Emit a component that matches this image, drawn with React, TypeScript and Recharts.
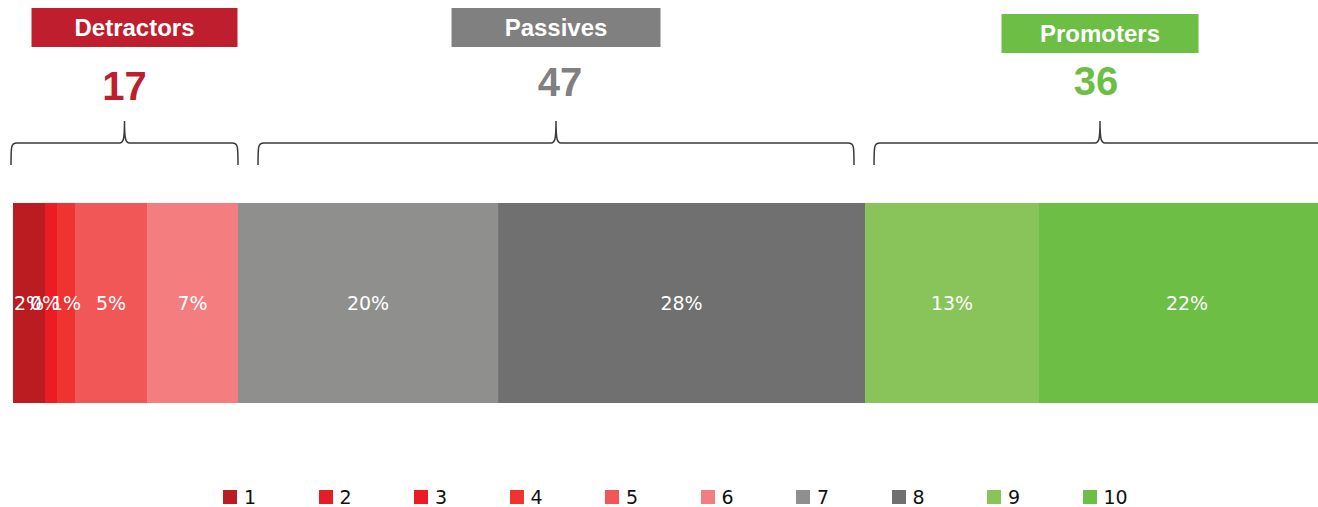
import React from 'react';
import { BarChart, Bar, XAxis, YAxis, Legend, ReferenceArea, ReferenceLine } from 'recharts';

// NPS score distribution (share of answers per score, in %)
const scores = ['1', '2', '3', '4', '5', '6', '7', '8', '9', '10'];
const shares = [2.42, 0, 0.91, 1.36, 5.45, 6.88, 19.67, 27.76, 13.16, 22.39];
// label of score 3 is not shown in the original
const shareLabels = ['2%', '0%', '', '1%', '5%', '7%', '20%', '28%', '13%', '22%'];
const scoreColors = [
  '#BA1C22', '#E31E24', '#ED1C24', '#EE3330', '#F25757',
  '#F47E7F', '#8F8F8E', '#6F706F', '#88C45A', '#6DBE45',
];

const groupNames = ['Detractors', 'Passives', 'Promoters'];
const groupTotals = [17, 47, 36];
const groupColors = ['#BE1E2D', '#808080', '#6DBE45'];
const groupFirstScore = [0, 6, 8];
const groupLastScore = [5, 7, 9];

// layout tweaks for the annotations above the bar
const groupLayout = [
  { braceL: -2, braceR: 0, boxW: 206, boxDx: 10, boxTop: 8, numDx: 0, numY: 100 },
  { braceL: 20, braceR: 11, boxW: 209, boxDx: 0, boxTop: 8, numDx: 4, numY: 96 },
  { braceL: 9, braceR: 9, boxW: 197, boxDx: 0, boxTop: 14, numDx: -4, numY: 95 },
];

const row: Record<string, string | number> = { name: 'NPS' };
scores.forEach((s, i) => {
  row['s' + s] = shares[i];
});
const data = [row];

const cumulative = shares.reduce<number[]>((acc, v) => [...acc, acc[acc.length - 1] + v], [0]);

const labelFont = '"DejaVu Sans", sans-serif';
const headFont = '"Liberation Sans", Arial, sans-serif';

const bracePath = (x0: number, x1: number, yTop: number, yMid: number, yBot: number) => {
  const xc = (x0 + x1) / 2;
  return [
    `M ${x0} ${yBot}`,
    `C ${x0} ${yMid + 3} ${x0} ${yMid} ${x0 + 6} ${yMid}`,
    `L ${xc - 5} ${yMid}`,
    `C ${xc - 1} ${yMid} ${xc} ${yMid - 4} ${xc} ${yTop}`,
    `C ${xc} ${yMid - 4} ${xc + 1} ${yMid} ${xc + 5} ${yMid}`,
    `L ${x1 - 6} ${yMid}`,
    `C ${x1} ${yMid} ${x1} ${yMid + 3} ${x1} ${yBot}`,
  ].join(' ');
};

const makeGroupShape = (g: number) => (props: any) => {
  const { x, y, width } = props;
  const lay = groupLayout[g];
  const x0 = x + lay.braceL;
  const x1 = x + width - lay.braceR;
  const xc = (x0 + x1) / 2;
  const boxX = xc + lay.boxDx - lay.boxW / 2;
  return (
    <g>
      <path d={bracePath(x0, x1, y - 82, y - 60, y - 38)} fill="none" stroke="#3A3A3A" strokeWidth={1.5} />
      <rect x={boxX} y={lay.boxTop} width={lay.boxW} height={39} fill={groupColors[g]} />
      <text
        x={boxX + lay.boxW / 2}
        y={lay.boxTop + 28}
        textAnchor="middle"
        fill="#fff"
        fontFamily={headFont}
        fontWeight="bold"
        fontSize={24}
      >
        {groupNames[g]}
      </text>
      <text
        x={xc + lay.numDx}
        y={lay.numY}
        textAnchor="middle"
        fill={groupColors[g]}
        fontFamily={headFont}
        fontWeight="bold"
        fontSize={40}
      >
        {groupTotals[g]}
      </text>
    </g>
  );
};

// percentage labels, drawn at the middle of each segment on top of the stack
const makeLabelShape = (i: number) => (props: any) => {
  const { x1, y1, y2 } = props;
  return (
    <text
      x={x1}
      y={(y1 + y2) / 2}
      dy="0.36em"
      textAnchor="middle"
      fill="#fff"
      fontFamily={labelFont}
      fontSize={19}
    >
      {shareLabels[i]}
    </text>
  );
};

const LegendContent = (props: any) => {
  const items = [...(props.payload || [])].sort(
    (a: any, b: any) => scores.indexOf(String(a.value)) - scores.indexOf(String(b.value))
  );
  return (
    <div style={{ display: 'flex', fontFamily: labelFont, fontSize: 19, color: '#111' }}>
      {items.map((it: any) => (
        <div key={it.value} style={{ width: 95.5, display: 'flex', alignItems: 'center', height: 14 }}>
          <span style={{ width: 14, height: 14, background: it.color, marginRight: 7, display: 'inline-block' }} />
          <span style={{ lineHeight: '14px' }}>{it.value}</span>
        </div>
      ))}
    </div>
  );
};

const App: React.FC = () => {
  return (
    <div style={{ position: 'absolute', left: 0, top: 0, width: 1318, height: 507, overflow: 'hidden', background: '#fff' }}>
      <BarChart
        width={1340}
        height={507}
        data={data}
        layout="vertical"
        margin={{ top: 203, right: 5, bottom: 104, left: 13 }}
        barCategoryGap={0}
        barGap={0}
      >
        <XAxis type="number" domain={[0, 100]} hide />
        <YAxis type="category" dataKey="name" hide />
        {scores.map((s, i) => (
          <Bar
            key={s}
            dataKey={'s' + s}
            name={s}
            stackId="nps"
            fill={scoreColors[i]}
            isAnimationActive={false}
          />
        ))}
        {scores.map((s, i) => (
          <ReferenceLine
            key={'lbl' + s}
            x={(cumulative[i] + cumulative[i + 1]) / 2}
            stroke="none"
            shape={makeLabelShape(i)}
            ifOverflow="visible"
          />
        ))}
        {groupNames.map((name, g) => (
          <ReferenceArea
            key={name}
            x1={cumulative[groupFirstScore[g]]}
            x2={cumulative[groupLastScore[g] + 1]}
            shape={makeGroupShape(g)}
            ifOverflow="visible"
          />
        ))}
        <Legend
          layout="horizontal"
          verticalAlign="middle"
          align="center"
          content={<LegendContent />}
          wrapperStyle={{ left: 223, top: 490, width: 1000, height: 16 }}
        />
      </BarChart>
    </div>
  );
};

export default App;
